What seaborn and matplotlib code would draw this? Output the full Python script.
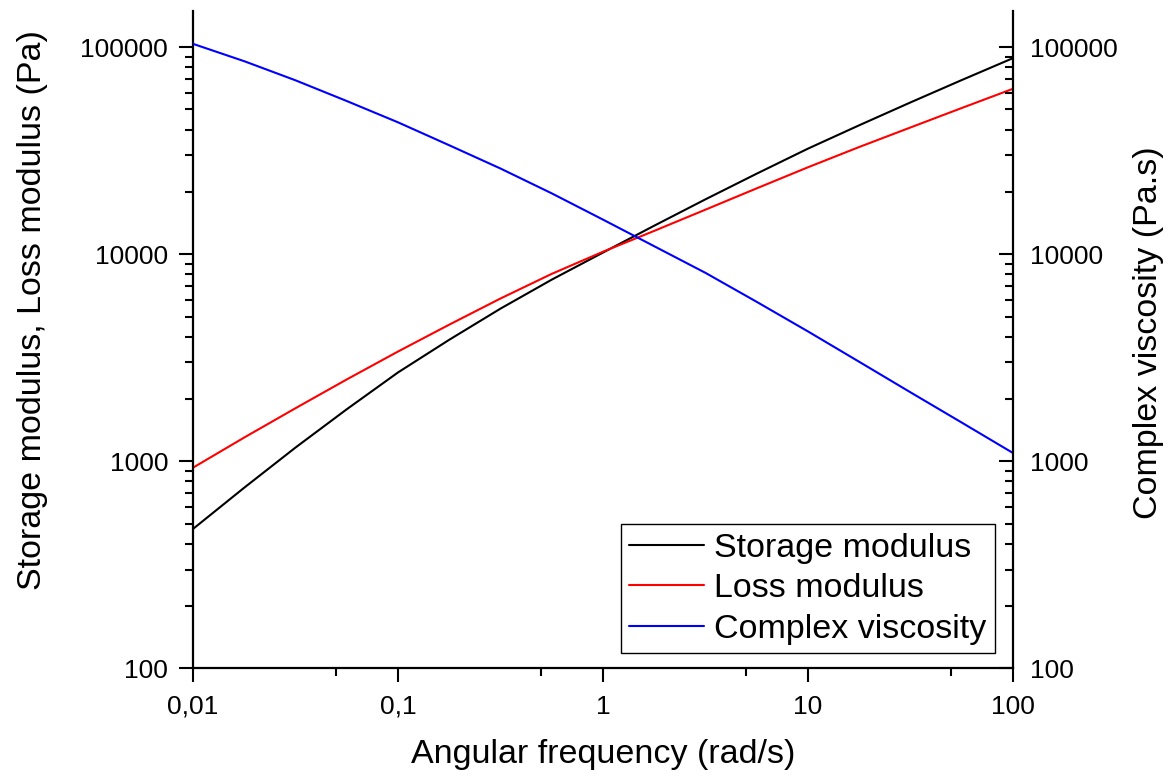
import numpy as np
import pandas as pd
import matplotlib
matplotlib.use("Agg")
import matplotlib.pyplot as plt
from matplotlib.ticker import LogLocator, NullFormatter, FixedLocator
import seaborn as sns

# ---- data ----
freq = [0.01, 0.0178, 0.0316, 0.0562, 0.1, 0.178, 0.316, 0.562, 1.0,
        1.78, 3.16, 5.62, 10.0, 17.8, 31.6, 56.2, 100.0]
storage_modulus = [471, 746, 1164, 1782, 2685, 3864, 5458, 7534, 10186,
                   13740, 18408, 24490, 32359, 41976, 54075, 69343, 88512]
loss_modulus = [931, 1303, 1803, 2483, 3388, 4571, 6109, 8035, 10280,
                12970, 16410, 20800, 26300, 32960, 40930, 50820, 62950]
complex_viscosity = [103750, 85510, 69180, 54950, 43350, 33570, 25940, 19680, 14690,
                     10920, 8128, 5888, 4236, 3020, 2153, 1538, 1096]

x_ticks = [0.01, 0.1, 1, 10, 100]
x_ticklabels = ["0,01", "0,1", "1", "10", "100"]
x_minor = [0.05, 0.5, 5, 50]
y_ticks = [100, 1000, 10000, 100000]
y_ticklabels = ["100", "1000", "10000", "100000"]

sns.set_theme(style="ticks")
plt.rcParams["font.family"] = ["Liberation Sans", "DejaVu Sans"]
plt.rcParams["text.color"] = "black"
plt.rcParams["axes.labelcolor"] = "black"
plt.rcParams["xtick.color"] = "black"
plt.rcParams["ytick.color"] = "black"

df_mod = pd.DataFrame({
    "freq": freq * 2,
    "value": storage_modulus + loss_modulus,
    "series": ["Storage modulus"] * len(freq) + ["Loss modulus"] * len(freq),
})
df_visc = pd.DataFrame({"freq": freq, "value": complex_viscosity,
                        "series": ["Complex viscosity"] * len(freq)})

W, H = 1175, 781
fig = plt.figure(figsize=(W / 100, H / 100), dpi=100)
left_px, right_px, top_px, bot_px = 193, 1013, 10.7, 668.3
ax = fig.add_axes([left_px / W, (H - bot_px) / H, (right_px - left_px) / W, (bot_px - top_px) / H])
ax.set_xscale("log")
ax.set_yscale("log")

sns.lineplot(data=df_mod, x="freq", y="value", hue="series",
             palette={"Storage modulus": "black", "Loss modulus": "red"},
             estimator=None, sort=False, linewidth=1.5, legend=False, ax=ax)

ylim = (100, 150000)
xlim = (0.01, 100)
ax.set_xlim(xlim)
ax.set_ylim(ylim)

ax2 = ax.twinx()
ax2.set_yscale("log")
sns.lineplot(data=df_visc, x="freq", y="value", hue="series",
             palette={"Complex viscosity": "blue"},
             estimator=None, sort=False, linewidth=1.5, legend=False, ax=ax2)
ax2.set_ylim(ylim)
ax2.set_xlim(xlim)

tick_fs = 19
label_fs = 24.5

# x axis
ax.set_xticks(x_ticks)
ax.set_xticklabels(x_ticklabels)
ax.xaxis.set_minor_locator(FixedLocator(x_minor))
ax.xaxis.set_minor_formatter(NullFormatter())
ax.tick_params(axis="x", which="major", direction="out", length=10, width=1.5,
               labelsize=tick_fs, pad=9, colors="black", top=False)
ax.tick_params(axis="x", which="minor", direction="out", length=6, width=1.5, top=False)

# y axes
for a in (ax, ax2):
    a.set_yticks(y_ticks)
    a.set_yticklabels(y_ticklabels)
    a.yaxis.set_minor_locator(LogLocator(base=10, subs=np.arange(2, 10)))
    a.yaxis.set_minor_formatter(NullFormatter())

ax.tick_params(axis="y", which="major", direction="out", length=10, width=1.5,
               labelsize=tick_fs, pad=8, colors="black", right=False)
ax.tick_params(axis="y", which="minor", direction="out", length=6, width=1.5, right=False)
ax2.tick_params(axis="y", which="major", direction="in", length=10, width=1.5,
                labelsize=tick_fs, pad=12, colors="black", left=False)
ax2.tick_params(axis="y", which="minor", direction="in", length=6, width=1.5, left=False)

for a in (ax, ax2):
    a.spines["top"].set_visible(False)
    for s in a.spines.values():
        s.set_linewidth(1.6)
        s.set_color("black")
ax.spines["right"].set_visible(False)
ax2.spines["left"].set_visible(False)
ax2.spines["bottom"].set_visible(False)

ax.set_xlabel("Angular frequency (rad/s)", fontsize=label_fs, color="black")
ax.set_ylabel("Storage modulus, Loss modulus (Pa)", fontsize=label_fs, color="black")
ax2.set_ylabel("Complex viscosity (Pa.s)", fontsize=label_fs, color="black")
ax.yaxis.set_label_coords(-0.177, 0.545)
ax2.yaxis.set_label_coords(1.146, 0.51)
ax.xaxis.set_label_coords(0.5, -0.107)

handles = ax.get_lines()[:2] + ax2.get_lines()[:1]
labels = ["Storage modulus", "Loss modulus", "Complex viscosity"]
leg = ax2.legend(handles, labels, loc="lower right",
                 bbox_to_anchor=(0.978, 0.023), borderaxespad=0,
                 fontsize=24.5, handlelength=2.2, handletextpad=0.3,
                 labelspacing=0.28, borderpad=0.25, fancybox=False,
                 framealpha=1, edgecolor="black")
leg.get_frame().set_linewidth(1.0)
for t in leg.get_texts():
    t.set_color("black")

fig.savefig("out.png", dpi=100)
